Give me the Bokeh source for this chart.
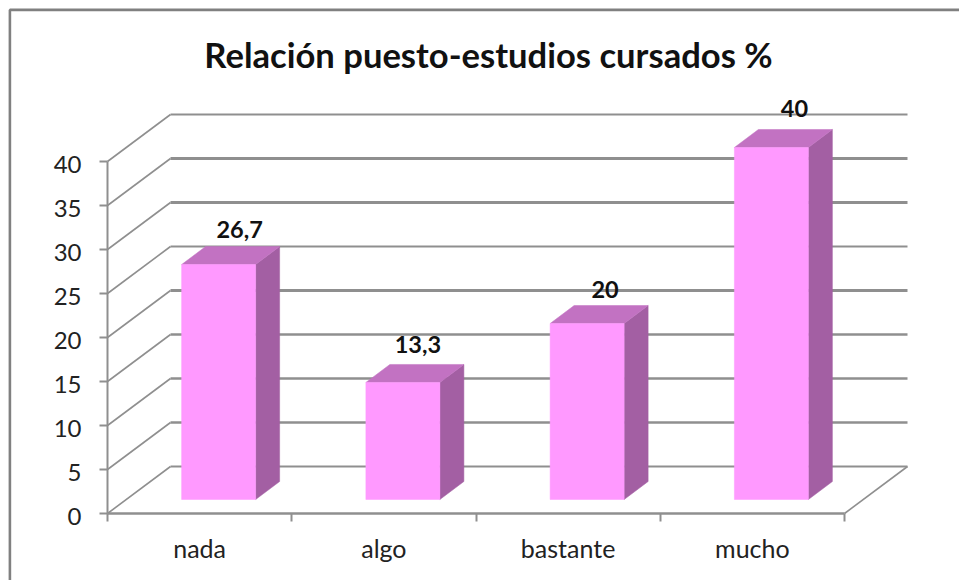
from bokeh.plotting import figure
from bokeh.models import LinearAxis, FixedTicker, Range1d
from bokeh.core.properties import value
from bokeh.embed import file_html
from bokeh.resources import INLINE

# ---- data ----
title_text = "Relación puesto-estudios cursados %"
categories = ["nada", "algo", "bastante", "mucho"]
percent = [26.7, 13.3, 20, 40]
percent_labels = ["26,7", "13,3", "20", "40"]
y_ticks = [0, 5, 10, 15, 20, 25, 30, 35, 40]

# ---- layout (pixels) ----
W, H = 959, 580
PX_X, PX_Y = 184.25, 8.8        # pixels per category / per percent point
ORIGIN_X, ORIGIN_Y = 107, 513   # axis origin on the canvas
FONT = "Lato"
GRID = "#8f8f8f"
WALL_WIDTHS = [2, 2.5, 2.5, 2.5, 3, 2, 3, 3, 2]

# 3D depth, in data units
WALL_DX, WALL_DY = 63 / PX_X, 47 / PX_Y
BAR_DX, BAR_DY = 24 / PX_X, 18 / PX_Y
FRONT_DX, FRONT_DY = 19 / PX_X, 14 / PX_Y
BAR_W = 74 / PX_X
LABEL_OFF_X = [21, 15, 18, 23]
LABEL_OFF_Y = [35, 38, 34, 39]

x0 = -ORIGIN_X / PX_X
x1 = (W - ORIGIN_X) / PX_X
y0 = -(H - ORIGIN_Y) / PX_Y
y1 = ORIGIN_Y / PX_Y
N = len(categories)

p = figure(width=W, height=H, output_backend="svg", toolbar_location=None,
           x_range=Range1d(x0, x1), y_range=Range1d(y0, y1),
           x_axis_location=None, y_axis_location=None,
           min_border=0, min_border_left=0, min_border_right=0,
           min_border_top=0, min_border_bottom=0,
           background_fill_color="white", border_fill_color="white",
           outline_line_color=None)
p.grid.visible = False

# chart frame: left and top edges
bx, by = (9.4 - ORIGIN_X) / PX_X, (ORIGIN_Y - 9.4) / PX_Y
p.line([bx, bx, x1], [y0, by, by], line_color="#808080", line_width=2.6)

# back wall and side wall grid
for v, lw in zip(y_ticks, WALL_WIDTHS):
    p.line([0, WALL_DX], [v, v + WALL_DY], line_color=GRID, line_width=1.6)
    p.line([WALL_DX, N + WALL_DX], [v + WALL_DY, v + WALL_DY],
           line_color=GRID, line_width=lw)
p.line([N, N + WALL_DX], [0, WALL_DY], line_color=GRID, line_width=1.6)

# bars
for i, v in enumerate(percent):
    l = i + 0.5 + FRONT_DX - BAR_W / 2
    r = l + BAR_W
    b = FRONT_DY
    t = b + v
    p.patch([r, r + BAR_DX, r + BAR_DX, r], [b, b + BAR_DY, t + BAR_DY, t],
            fill_color="#A35FA3", line_color="#A35FA3", line_width=0.5)
    p.patch([l, l + BAR_DX, r + BAR_DX, r], [t, t + BAR_DY, t + BAR_DY, t],
            fill_color="#C272C2", line_color="#C272C2", line_width=0.5)
    p.quad(left=l, right=r, bottom=b, top=t,
           fill_color="#FF99FF", line_color="#FF99FF", line_width=0.5)
    p.text([i + 0.5 + FRONT_DX], [b + v], text=[percent_labels[i]],
           x_offset=LABEL_OFF_X[i], y_offset=-LABEL_OFF_Y[i],
           text_font=value(FONT), text_font_style="bold", text_font_size="23.5px",
           text_color="#111111", text_align="center", text_baseline="middle")

# title
p.text([(488 - ORIGIN_X) / PX_X], [(ORIGIN_Y - 55) / PX_Y], text=[title_text],
       text_font=value(FONT), text_font_style="bold", text_font_size="34.6px",
       y_offset=-1,
       text_color="#111111", text_align="center", text_baseline="middle")

# value tick labels sit a little below their ticks in the reference
p.text([(81 - ORIGIN_X) / PX_X] * len(y_ticks), y_ticks, text=[str(v) for v in y_ticks],
       y_offset=3, text_font=value(FONT), text_font_size="24px", text_color="#222222",
       text_align="right", text_baseline="middle")

# axes: the value axis draws its ticks as minor ticks, so it has no labels of its own
yax = LinearAxis(fixed_location=0, ticker=FixedTicker(ticks=[], minor_ticks=y_ticks),
                 bounds=(0, 40))
yax.axis_line_color = GRID
yax.axis_line_width = 2
yax.major_tick_line_color = None
yax.minor_tick_line_color = GRID
yax.minor_tick_line_width = 2
yax.minor_tick_in = 0
yax.minor_tick_out = 8
p.add_layout(yax, "left")

cat_pos = [i + 0.5 for i in range(N)]
xax = LinearAxis(fixed_location=0,
                 ticker=FixedTicker(ticks=cat_pos, minor_ticks=list(range(N + 1))),
                 bounds=(0, N))
xax.major_label_overrides = dict(zip(cat_pos, categories))
xax.axis_line_color = GRID
xax.axis_line_width = 2.5
xax.major_tick_line_color = None
xax.major_tick_in = 0
xax.major_tick_out = 0
xax.minor_tick_line_color = GRID
xax.minor_tick_line_width = 2
xax.minor_tick_in = 0
xax.minor_tick_out = 8
xax.major_label_standoff = 11
xax.major_label_text_font = FONT
xax.major_label_text_font_size = "25px"
xax.major_label_text_color = "#222222"
p.add_layout(xax, "below")

open("out.html", "w").write(file_html(p, INLINE))
